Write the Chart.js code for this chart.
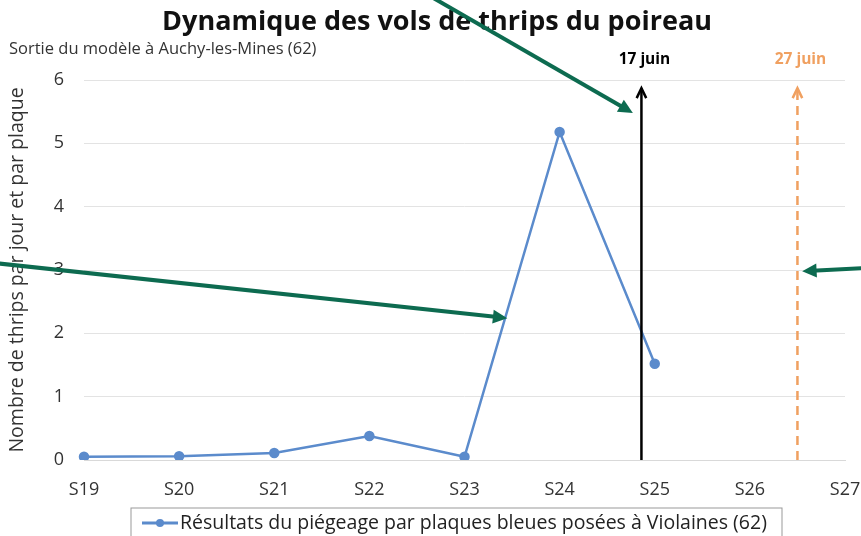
<!DOCTYPE html>
<html>
<head>
<meta charset="utf-8">
<script src="https://cdn.jsdelivr.net/npm/chart.js@4"></script>
<style>
  html, body { margin: 0; padding: 0; background: #fff; }
  #wrap { width: 861px; height: 536px; }
</style>
</head>
<body>
<div id="wrap"><canvas id="chart" width="861" height="536"></canvas></div>
<script>
// data
const weeks = ['S19', 'S20', 'S21', 'S22', 'S23', 'S24', 'S25', 'S26', 'S27'];
const thrips = [0.05, 0.06, 0.11, 0.38, 0.05, 5.18, 1.52, null, null];
const yTicks = [0, 1, 2, 3, 4, 5, 6];

// dates marked on the chart (x as week index, 0 = S19)
const markers = [
  { label: '17 juin', x: 5.86, top: 5.87, color: '#000000', dash: [] },
  { label: '27 juin', x: 7.5, top: 5.87, color: '#f0a060', dash: [9, 6] }
];

// green pointer arrows drawn over the chart, in data coords [x index, y value]
const pointers = [
  { from: [3.62, 7.34], to: [5.77, 5.48] },
  { from: [-0.94, 3.11], to: [4.45, 2.24] },
  { from: [8.22, 3.03], to: [7.55, 2.98] }
];

const FONT = '"Open Sans", Lato, sans-serif';
const lineColor = '#5b8bcc';

function arrowHead(ctx, x1, y1, x2, y2, size, filled) {
  const a = Math.atan2(y2 - y1, x2 - x1);
  ctx.beginPath();
  ctx.moveTo(x2 - size * Math.cos(a - 0.45), y2 - size * Math.sin(a - 0.45));
  ctx.lineTo(x2, y2);
  ctx.lineTo(x2 - size * Math.cos(a + 0.45), y2 - size * Math.sin(a + 0.45));
  if (filled) { ctx.closePath(); ctx.fill(); } else ctx.stroke();
}

const decor = {
  id: 'decor',
  afterDraw(chart) {
    const ctx = chart.ctx;
    const xs = chart.scales.x, ys = chart.scales.y;
    ctx.save();

    // title + subtitle
    ctx.fillStyle = '#111';
    ctx.textAlign = 'center';
    ctx.textBaseline = 'middle';
    ctx.font = 'bold 27px ' + FONT;
    ctx.fillText('Dynamique des vols de thrips du poireau', 437, 22);
    ctx.textAlign = 'left';
    ctx.font = '16.5px ' + FONT;
    ctx.fillStyle = '#333';
    ctx.fillText('Sortie du modèle à Auchy-les-Mines (62)', 9, 49);

    // date markers
    markers.forEach(m => {
      const px = xs.getPixelForValue(m.x);
      const y0 = ys.getPixelForValue(0);
      const y1 = ys.getPixelForValue(m.top);
      ctx.strokeStyle = m.color;
      ctx.lineWidth = 2.5;
      ctx.setLineDash(m.dash);
      ctx.beginPath();
      ctx.moveTo(px, y0);
      ctx.lineTo(px, y1);
      ctx.stroke();
      ctx.setLineDash([]);
      arrowHead(ctx, px, y0, px, y1, 11, false);
      ctx.fillStyle = m.color;
      ctx.font = 'bold 15.5px ' + FONT;
      ctx.textAlign = 'center';
      ctx.fillText(m.label, px + 3, 60);
    });

    // legend box
    const lx = 131, ly = 508, lw = 651, lh = 34;
    ctx.strokeStyle = '#999';
    ctx.lineWidth = 1;
    ctx.strokeRect(lx, ly, lw, lh);
    ctx.strokeStyle = lineColor;
    ctx.lineWidth = 3;
    ctx.beginPath();
    ctx.moveTo(142, 523);
    ctx.lineTo(178, 523);
    ctx.stroke();
    ctx.fillStyle = lineColor;
    ctx.beginPath();
    ctx.arc(160, 523, 4, 0, Math.PI * 2);
    ctx.fill();
    ctx.fillStyle = '#222';
    ctx.font = '19.5px ' + FONT;
    ctx.textAlign = 'left';
    ctx.fillText('Résultats du piégeage par plaques bleues posées à Violaines (62)', 180, 523);

    // green pointers
    ctx.strokeStyle = '#0d6b50';
    ctx.fillStyle = '#0d6b50';
    ctx.lineWidth = 4;
    pointers.forEach(p => {
      const x1 = xs.getPixelForValue(p.from[0]), y1 = ys.getPixelForValue(p.from[1]);
      const x2 = xs.getPixelForValue(p.to[0]), y2 = ys.getPixelForValue(p.to[1]);
      const a = Math.atan2(y2 - y1, x2 - x1);
      ctx.beginPath();
      ctx.moveTo(x1, y1);
      ctx.lineTo(x2 - 10 * Math.cos(a), y2 - 10 * Math.sin(a));
      ctx.stroke();
      arrowHead(ctx, x1, y1, x2, y2, 16, true);
    });
    ctx.restore();
  }
};

new Chart(document.getElementById('chart'), {
  type: 'line',
  data: {
    labels: weeks,
    datasets: [{
      label: 'Résultats du piégeage par plaques bleues posées à Violaines (62)',
      data: thrips,
      borderColor: lineColor,
      backgroundColor: lineColor,
      borderWidth: 2.5,
      pointRadius: 4,
      pointBackgroundColor: lineColor,
      tension: 0
    }]
  },
  options: {
    responsive: false,
    animation: false,
    layout: { padding: { left: 0, right: 0, top: 80, bottom: 0 } },
    plugins: { legend: { display: false }, title: { display: false }, tooltip: { enabled: false } },
    scales: {
      x: {
        offset: false,
        grid: { display: false },
        border: { color: '#d9d9d9' },
        ticks: { color: '#333', font: { family: FONT, size: 18 }, padding: 11, maxRotation: 0, autoSkip: false },
        afterFit(s) { s.height = 76; s.paddingLeft = 0; s.paddingRight = 16; }
      },
      y: {
        min: 0, max: 6,
        afterBuildTicks(s) { s.ticks = yTicks.map(v => ({ value: v })); },
        grid: { color: '#e3e3e3', drawTicks: false },
        border: { display: false },
        ticks: { color: '#333', font: { family: FONT, size: 18 }, padding: 20 },
        title: { display: true, text: 'Nombre de thrips par jour et par plaque', color: '#333', font: { family: FONT, size: 19.5 }, padding: { top: 6, bottom: 0 } },
        afterFit(s) { s.width = 84; s.paddingTop = 0; s.paddingBottom = 0; }
      }
    }
  },
  plugins: [decor]
});
</script>
</body>
</html>
